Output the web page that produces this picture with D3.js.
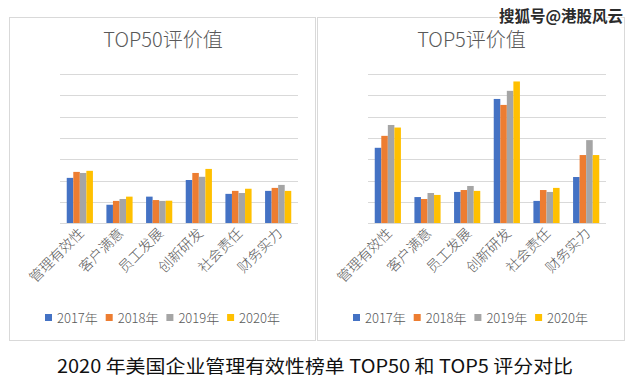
<!DOCTYPE html>
<html lang="zh">
<head>
  <meta charset="UTF-8">
  <title>TOP50 / TOP5</title>
  <script src="https://d3js.org/d3.v7.min.js"></script>
  <style>
    body { margin: 0; background: #fff; }
    text { font-family: "Noto Sans CJK SC", "Noto Sans", sans-serif; }
  </style>
</head>
<body>
<script type="text/javascript">
    // data
    var categories = ["管理有效性", "客户满意", "员工发展", "创新研发", "社会责任", "财务实力"];
    var years = ["2017年", "2018年", "2019年", "2020年"];
    var colors = ["#4472C4", "#ED7D31", "#A5A5A5", "#FFC000"];

    var top50 = [
      [2.13, 2.41, 2.36, 2.46],
      [0.87, 1.05, 1.14, 1.25],
      [1.25, 1.09, 1.05, 1.06],
      [2.03, 2.36, 2.18, 2.55],
      [1.38, 1.52, 1.42, 1.62],
      [1.52, 1.66, 1.80, 1.52]
    ];
    var top5 = [
      [3.54, 4.10, 4.61, 4.49],
      [1.23, 1.14, 1.42, 1.33],
      [1.47, 1.56, 1.75, 1.52],
      [5.83, 5.55, 6.21, 6.65],
      [1.05, 1.56, 1.47, 1.66],
      [2.17, 3.20, 3.90, 3.20]
    ];
    var gridTicks = [1, 2, 3, 4, 5, 6, 7];

    var W = 637, H = 381;
    var svg = d3.select("body").append("svg")
                .attr("width", W)
                .attr("height", H);

    var y = d3.scaleLinear().domain([0, 7]).range([223.3, 74]);

    function panel(px, pw, title, data) {
      var g = svg.append("g");
      g.append("rect")
        .attr("x", px + 0.5).attr("y", 17.5)
        .attr("width", pw).attr("height", 323)
        .attr("fill", "#fff").attr("stroke", "#d9d9d9");

      g.append("text")
        .attr("x", px + pw / 2 + 1).attr("y", 47)
        .attr("text-anchor", "middle")
        .attr("font-size", 20)
        .attr("font-weight", 300)
        .attr("fill", "#595959")
        .text(title);

      var x0 = d3.scaleBand().domain(categories)
                 .range([px + 51, px + 289])
                 .paddingInner(0.34).paddingOuter(0.17);
      var x1 = d3.scaleBand().domain(years).range([0, x0.bandwidth()]);

      g.selectAll("line.grid").data(gridTicks).enter()
        .append("line")
        .attr("x1", px + 51).attr("x2", px + 289)
        .attr("y1", function(d){ return Math.round(y(d)) + 0.5; })
        .attr("y2", function(d){ return Math.round(y(d)) + 0.5; })
        .attr("stroke", "#d9d9d9");

      var groups = g.selectAll("g.cat").data(data).enter()
        .append("g")
        .attr("transform", function(d, i){ return "translate(" + x0(categories[i]) + ",0)"; });

      groups.selectAll("rect").data(function(d){ return d; }).enter()
        .append("rect")
        .attr("x", function(d, j){ return x1(years[j]); })
        .attr("width", x1.bandwidth())
        .attr("y", function(d){ return y(d); })
        .attr("height", function(d){ return y(0) - y(d); })
        .attr("fill", function(d, j){ return colors[j]; });

      g.append("line")
        .attr("x1", px + 51).attr("x2", px + 289)
        .attr("y1", 223.5).attr("y2", 223.5)
        .attr("stroke", "#d9d9d9");

      g.selectAll("text.cat").data(categories).enter()
        .append("text")
        .attr("text-anchor", "end")
        .attr("font-size", 14)
        .attr("font-weight", 300)
        .attr("fill", "#595959")
        .attr("transform", function(d){
          return "translate(" + (x0(d) + x0.bandwidth() / 2 + 5) + ",234) rotate(-45)";
        })
        .text(function(d){ return d; });

      var lx = px + 36;
      var leg = g.selectAll("g.leg").data(years).enter()
        .append("g")
        .attr("transform", function(d, i){ return "translate(" + (lx + i * 60.7) + ",318)"; });
      leg.append("rect")
        .attr("x", 0).attr("y", -4)
        .attr("width", 7).attr("height", 7)
        .attr("fill", function(d, i){ return colors[i]; });
      leg.append("text")
        .attr("x", 12).attr("y", 5)
        .attr("font-size", 13)
        .attr("font-weight", 300)
        .attr("fill", "#595959")
        .text(function(d){ return d; });
    }

    panel(9, 306, "TOP50评价值", top50);
    panel(317, 307, "TOP5评价值", top5);

    // watermark
    svg.append("text")
      .attr("x", 623).attr("y", 22)
      .attr("text-anchor", "end")
      .attr("font-size", 15.5)
      .attr("font-weight", "bold")
      .attr("fill", "#2b2b2b")
      .attr("stroke", "#fff").attr("stroke-width", 2.5)
      .attr("paint-order", "stroke")
      .text("搜狐号@港股风云");

    // caption
    svg.append("text")
      .attr("x", 315).attr("y", 373)
      .attr("text-anchor", "middle")
      .attr("font-size", 18)
      .attr("fill", "#111")
      .attr("textLength", 516)
      .attr("lengthAdjust", "spacingAndGlyphs")
      .text("2020 年美国企业管理有效性榜单 TOP50 和 TOP5 评分对比");
</script>
</body>
</html>
